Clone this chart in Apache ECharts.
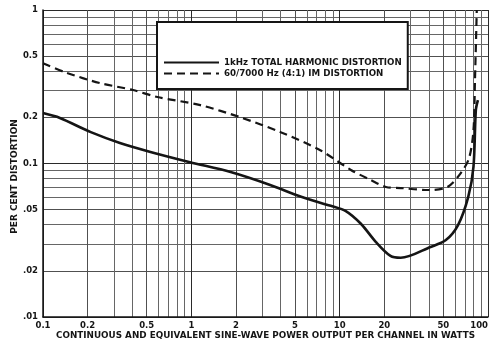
<!DOCTYPE html>
<html>
<head>
<meta charset="utf-8">
<script src="https://cdn.jsdelivr.net/npm/echarts@6/dist/echarts.min.js"></script>
<style>
  html, body { margin: 0; padding: 0; background: #ffffff; }
  #chart { width: 491px; height: 341px; }
</style>
</head>
<body>
<div id="chart"></div>
<script>
// 1 kHz total harmonic distortion (watts per channel -> per cent)
const thdPower  = [0.1, 0.13, 0.21, 0.33, 0.53, 0.98, 1.84, 3.4, 5.5, 8.7, 11, 13.9, 17.5, 22, 25.8, 41, 52, 62.8, 73.6, 79.8, 82.8, 85.5];
const thdValues = [0.213, 0.198, 0.160, 0.136, 0.119, 0.102, 0.088, 0.0725, 0.0607, 0.053, 0.049, 0.0405, 0.0309, 0.025, 0.0243, 0.0286, 0.0317, 0.0397, 0.0606, 0.095, 0.223, 0.259];

// 60/7000 Hz (4:1) intermodulation distortion
const imPower  = [0.1, 0.145, 0.243, 0.405, 0.59, 1.15, 2.14, 4.0, 7.4, 11.9, 16.2, 20.5, 25.8, 39.3, 53.3, 65.6, 74.6, 79.8, 81.7, 84];
const imValues = [0.45, 0.389, 0.334, 0.301, 0.271, 0.240, 0.200, 0.160, 0.122, 0.0908, 0.078, 0.0703, 0.0692, 0.0672, 0.0703, 0.0867, 0.1086, 0.165, 0.35, 1.0];

const seriesNames = ['1kHz TOTAL HARMONIC DISTORTION', '60/7000 Hz (4:1) IM DISTORTION'];

// Tick labels
const xLabelValues = [0.1, 0.2, 0.5, 1, 2, 5, 10, 20, 50, 100];
const xLabelTexts  = ['0.1', '0.2', '0.5', '1', '2', '5', '10', '20', '50', '100'];
const yLabelValues = [0.01, 0.02, 0.05, 0.1, 0.2, 0.5, 1];
const yLabelTexts  = ['.01', '.02', '.05', '0.1', '0.2', '0.5', '1'];

const xTitle = 'CONTINUOUS AND EQUIVALENT SINE-WAVE POWER OUTPUT PER CHANNEL IN WATTS';
const yTitle = 'PER CENT DISTORTION';

// Log-paper rulings: 1..9 in every decade
function rulings(lo, hi) {
  const out = [];
  for (let d = lo; d < hi * 0.999; d *= 10) {
    for (let k = 1; k <= 9; k++) out.push(+(d * k).toPrecision(3));
  }
  out.push(hi);
  return out;
}
const xGridValues = rulings(0.1, 100);
const yGridValues = rulings(0.01, 1);

function lookup(values, texts) {
  return function (v) {
    for (let i = 0; i < values.length; i++) {
      if (Math.abs(values[i] - v) / values[i] < 1e-6) return texts[i];
    }
    return '';
  };
}

const ink = '#151515';
const gridColors = ['#2a2a2a', '#505050', '#666', '#666', '#505050', '#666', '#666', '#666', '#666'];
const font = 'DejaVu Sans';

const chart = echarts.init(document.getElementById('chart'), null, { renderer: 'canvas' });
chart.setOption({
  animation: false,
  backgroundColor: '#ffffff',
  grid: { left: 43, right: 3, top: 10, bottom: 24, outerBoundsMode: 'none', containLabel: false },
  legend: {
    data: seriesNames,
    orient: 'vertical',
    left: 157,
    top: 22,
    itemWidth: 55,
    itemHeight: 8,
    itemGap: 2,
    padding: [36, 6, 11, 6],
    backgroundColor: '#ffffff',
    borderColor: ink,
    borderWidth: 2,
    selectedMode: false,
    itemStyle: { opacity: 0 },
    textStyle: { fontFamily: font, fontSize: 8.7, fontWeight: 'bold', color: ink }
  },
  xAxis: {
    type: 'log',
    logBase: 10,
    min: 0.1,
    max: 100,
    name: xTitle,
    nameLocation: 'middle',
    nameGap: 14,
    nameMoveOverlap: false,
    nameTextStyle: { fontFamily: font, fontSize: 8.8, fontWeight: 'bold', color: ink },
    axisLine: { show: true, lineStyle: { color: ink, width: 1.5 } },
    axisTick: { show: false, customValues: xGridValues },
    axisLabel: {
      customValues: xLabelValues,
      formatter: lookup(xLabelValues, xLabelTexts),
      fontFamily: font, fontSize: 8.5, fontWeight: 'bold', color: ink,
      margin: 4,
      alignMaxLabel: 'right'
    },
    splitLine: { show: true, lineStyle: { color: gridColors, width: 1 } }
  },
  yAxis: {
    type: 'log',
    logBase: 10,
    min: 0.01,
    max: 1,
    name: yTitle,
    nameLocation: 'middle',
    nameGap: 24,
    nameMoveOverlap: false,
    nameRotate: 90,
    nameTextStyle: { fontFamily: font, fontSize: 9, fontWeight: 'bold', color: ink, padding: [0, 26, 0, 0] },
    axisLine: { show: true, lineStyle: { color: ink, width: 1.5 } },
    axisTick: { show: false, customValues: yGridValues },
    axisLabel: {
      customValues: yLabelValues,
      formatter: lookup(yLabelValues, yLabelTexts),
      fontFamily: font, fontSize: 8.5, fontWeight: 'bold', color: ink,
      margin: 5
    },
    splitLine: { show: true, lineStyle: { color: gridColors, width: 1 } }
  },
  series: [
    {
      name: seriesNames[0],
      type: 'line',
      data: thdPower.map((p, i) => [p, thdValues[i]]),
      smooth: 0.3,
      symbol: 'none',
      lineStyle: { color: ink, width: 2.6 },
      itemStyle: { color: ink },
      z: 3
    },
    {
      name: seriesNames[1],
      type: 'line',
      data: imPower.map((p, i) => [p, imValues[i]]),
      smooth: 0.3,
      symbol: 'none',
      lineStyle: { color: ink, width: 2.2, type: [8, 5] },
      itemStyle: { color: ink },
      z: 3
    }
  ]
});
</script>
</body>
</html>
